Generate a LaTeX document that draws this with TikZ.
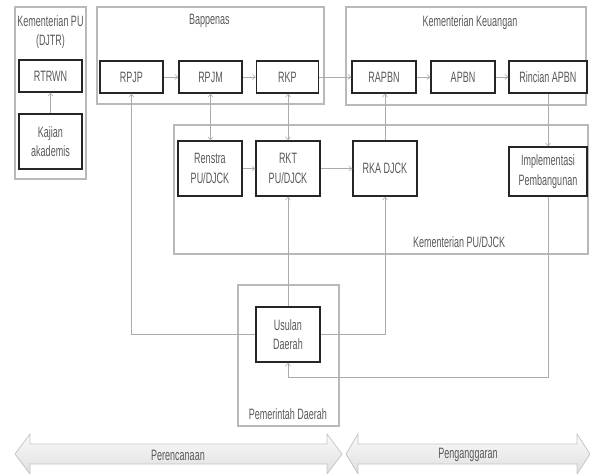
\documentclass[tikz,border=0pt]{standalone}
\usepackage{fontspec}
\setmainfont{Liberation Sans}[FakeStretch=0.6]
\usetikzlibrary{arrows.meta,calc}
\begin{document}
\begin{tikzpicture}[x=1pt,y=-1pt,
  every node/.style={font=\fontsize{15}{19.5}\selectfont},
  group/.style={draw=gray!55, line width=1.6pt, inner sep=0pt, rectangle},
  box/.style={draw=black!85, line width=1.3pt, fill=white, align=center, inner sep=0pt, text=black!65, rectangle},
  lbl/.style={text=black!65, align=center, inner sep=0pt},
  conn/.style={draw=gray!65, line width=0.6pt, -{Straight Barb[length=3pt,width=5pt]}},
  dconn/.style={draw=gray!65, line width=0.6pt, {Straight Barb[length=3pt,width=5pt]}-{Straight Barb[length=3pt,width=5pt]}},
  blockarrow/.style={draw=gray!45, line width=0.8pt, top color=gray!4, bottom color=gray!25}]
\useasboundingbox (0,0) rectangle (590,474);

% group boxes
\node[group, minimum width=71pt, minimum height=172pt] (gdjtr) at (50.5,93) {};
\node[group, minimum width=227pt, minimum height=97pt] (gbap) at (210.5,55.5) {};
\node[group, minimum width=240pt, minimum height=98pt] (gkeu) at (466,56) {};
\node[group, minimum width=414pt, minimum height=129pt] (gpu) at (381,189.5) {};
\node[group, minimum width=101pt, minimum height=141pt] (gpem) at (288.5,355.5) {};

% group labels
\node[lbl] (ldjtr) at (50.5,32) {Kementerian PU\\(DJTR)};
\node[lbl, anchor=west] (lbap) at (189,21) {Bappenas};
\node[lbl] (lkeu) at (470,23) {Kementerian Keuangan};
\node[lbl, anchor=west] (lpu) at (413,242) {Kementerian PU/DJCK};
\node[lbl] (lpem) at (288,414) {Pemerintah Daerah};

% inner boxes
\node[box, minimum width=63pt, minimum height=32pt] (rtrwn) at (50.5,76) {RTRWN};
\node[box, minimum width=63pt, minimum height=55pt] (kajian) at (50.5,141.5) {Kajian\\akademis};
\node[box, minimum width=63pt, minimum height=32pt] (rpjp) at (131.5,77) {RPJP};
\node[box, minimum width=63pt, minimum height=32pt] (rpjm) at (210.5,77) {RPJM};
\node[box, minimum width=62pt, minimum height=32pt] (rkp) at (287.5,77) {RKP};
\node[box, minimum width=64pt, minimum height=32pt] (rapbn) at (384,77) {RAPBN};
\node[box, minimum width=64pt, minimum height=32pt] (apbn) at (463,77) {APBN};
\node[box, minimum width=78pt, minimum height=32pt] (rincian) at (548,77) {Rincian APBN};
\node[box, minimum width=64pt, minimum height=55pt] (renstra) at (210,168.5) {Renstra\\PU/DJCK};
\node[box, minimum width=64pt, minimum height=55pt] (rkt) at (288,168.5) {RKT\\PU/DJCK};
\node[box, minimum width=64pt, minimum height=55pt] (rka) at (385,168.5) {RKA DJCK};
\node[box, minimum width=78pt, minimum height=49pt] (impl) at (548,171.5) {Implementasi\\Pembangunan};
\node[box, minimum width=64pt, minimum height=55pt] (usulan) at (288,334.5) {Usulan\\Daerah};

\coordinate (turn) at (548,377);

% connectors
\draw[conn] (kajian) -- (rtrwn);
\draw[conn] (rpjp) -- (rpjm);
\draw[conn] (rpjm) -- (rkp);
\draw[conn] (rkp) -- (rapbn);
\draw[conn] (rapbn) -- (apbn);
\draw[conn] (apbn) -- (rincian);
\draw[dconn] (rpjm.south) -- (rpjm.south |- renstra.north);
\draw[dconn] (rkp.south -| rkt.north) -- (rkt.north);
\draw[conn] (renstra) -- (rkt);
\draw[conn] (rkt) -- (rka);
\draw[conn] (rka.north) -- (rka.north |- rapbn.south);
\draw[conn] (rincian.south) -- (rincian.south |- impl.north);
\draw[conn] (usulan.north) -- (rkt.south);
\draw[conn] (usulan.west) -| (rpjp.south);
\draw[conn] (usulan.east) -| (rka.south);
\draw[conn] (impl.south) -- (turn) -| (usulan.south);

% bottom block arrows
\path[blockarrow] (15,454) -- (30,434) -- (30,444) -- (327,444) -- (327,434) -- (342,454)
  -- (327,474) -- (327,464) -- (30,464) -- (30,474) -- cycle;
\path[blockarrow] (346,454) -- (358,434) -- (358,444) -- (577,444) -- (577,434) -- (590,454)
  -- (577,474) -- (577,464) -- (358,464) -- (358,474) -- cycle;
\node[lbl] (lper) at (178,455) {Perencanaan};
\node[lbl] (lang) at (468,455) {Penganggaran};
\end{tikzpicture}
\end{document}
